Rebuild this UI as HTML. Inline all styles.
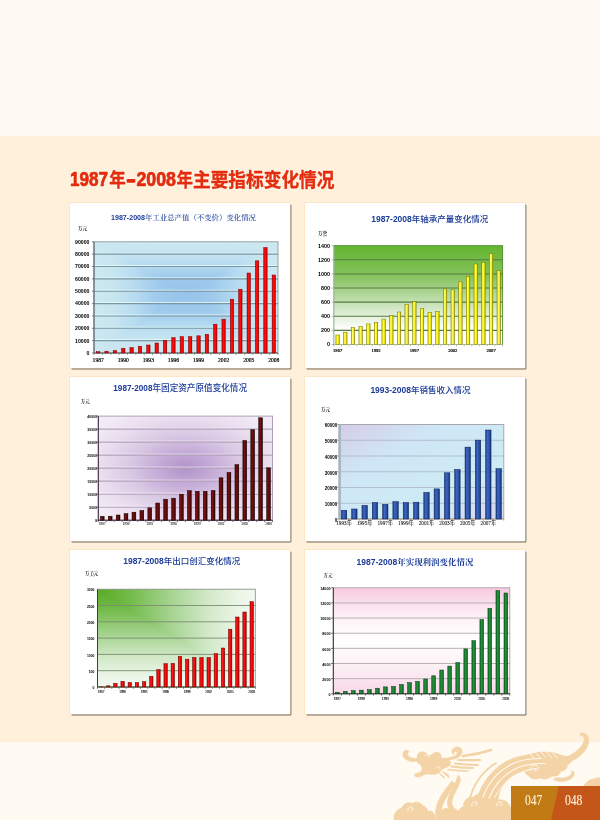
<!DOCTYPE html><html><head><meta charset="utf-8"><title>1987年-2008年主要指标变化情况</title><style>html,body{margin:0;padding:0;background:#fffaf3;}svg{display:block;will-change:transform;}</style></head><body>
<svg width="600" height="820" viewBox="0 0 600 820">
<defs>
<radialGradient id="c1bg" cx="0.5" cy="0.45" r="0.6" gradientTransform="translate(0.5 0.45) scale(1 0.75) translate(-0.5 -0.45)">
  <stop offset="0" stop-color="#92c0ea"/><stop offset="0.45" stop-color="#a8d2ee"/><stop offset="1" stop-color="#cde8ef"/>
</radialGradient>
<linearGradient id="c2bg" x1="0" y1="0" x2="0" y2="1">
  <stop offset="0" stop-color="#64b530"/><stop offset="0.3" stop-color="#84c25c"/><stop offset="0.62" stop-color="#cfe6c2"/><stop offset="0.85" stop-color="#ffffff"/><stop offset="1" stop-color="#ffffff"/>
</linearGradient>
<radialGradient id="c3bg" cx="0.5" cy="0.5" r="0.62">
  <stop offset="0" stop-color="#b092c9"/><stop offset="0.3" stop-color="#c8b0da"/><stop offset="0.5" stop-color="#d8c7e3"/><stop offset="0.8" stop-color="#eadfef"/><stop offset="1" stop-color="#f2eaf5"/>
</radialGradient>
<linearGradient id="c4bg" x1="0" y1="0" x2="1" y2="1">
  <stop offset="0" stop-color="#d6cbe8"/><stop offset="0.3" stop-color="#cfe6f6"/><stop offset="0.7" stop-color="#cdecf4"/><stop offset="1" stop-color="#d9d4ee"/>
</linearGradient>
<linearGradient id="c5bg" x1="0" y1="0" x2="1" y2="1">
  <stop offset="0" stop-color="#56a823"/><stop offset="0.12" stop-color="#6db43f"/><stop offset="0.3" stop-color="#a3d08a"/><stop offset="0.5" stop-color="#d6ebcd"/><stop offset="0.72" stop-color="#eef7ea"/><stop offset="1" stop-color="#f4faf2"/>
</linearGradient>
<linearGradient id="c6bg" x1="0" y1="0" x2="0" y2="1">
  <stop offset="0" stop-color="#f7cadf"/><stop offset="0.15" stop-color="#fae0ec"/><stop offset="0.32" stop-color="#fef5f9"/><stop offset="0.5" stop-color="#ffffff"/><stop offset="0.7" stop-color="#fdf3f7"/><stop offset="1" stop-color="#f8d8e7"/>
</linearGradient>
<linearGradient id="red1" x1="0" y1="0" x2="1" y2="0">
  <stop offset="0" stop-color="#c80000"/><stop offset="0.35" stop-color="#ff1010"/><stop offset="0.7" stop-color="#ff0000"/><stop offset="1" stop-color="#b00000"/>
</linearGradient>
<linearGradient id="red2" x1="0" y1="0" x2="1" y2="0">
  <stop offset="0" stop-color="#c00000"/><stop offset="0.35" stop-color="#ff1a1a"/><stop offset="0.7" stop-color="#ee0000"/><stop offset="1" stop-color="#a00000"/>
</linearGradient>
<linearGradient id="yel" x1="0" y1="0" x2="1" y2="0">
  <stop offset="0" stop-color="#d8d000"/><stop offset="0.35" stop-color="#ffff60"/><stop offset="0.7" stop-color="#f4ee10"/><stop offset="1" stop-color="#b0a800"/>
</linearGradient>
<linearGradient id="maroon" x1="0" y1="0" x2="1" y2="0">
  <stop offset="0" stop-color="#3e0202"/><stop offset="0.3" stop-color="#781010"/><stop offset="0.65" stop-color="#650a0a"/><stop offset="1" stop-color="#220000"/>
</linearGradient>
<linearGradient id="blue" x1="0" y1="0" x2="1" y2="0">
  <stop offset="0" stop-color="#1c3c8c"/><stop offset="0.35" stop-color="#3c66c0"/><stop offset="0.7" stop-color="#2a52a8"/><stop offset="1" stop-color="#14306e"/>
</linearGradient>
<linearGradient id="green" x1="0" y1="0" x2="1" y2="0">
  <stop offset="0" stop-color="#0c6422"/><stop offset="0.35" stop-color="#24973f"/><stop offset="0.7" stop-color="#188432"/><stop offset="1" stop-color="#08481a"/>
</linearGradient>
<linearGradient id="c1h" x1="0" y1="0" x2="1" y2="0"><stop offset="0.000" stop-color="#cde8ef"/><stop offset="0.125" stop-color="#c6e4f0"/><stop offset="0.225" stop-color="#b6dbf1"/><stop offset="0.350" stop-color="#9fcaec"/><stop offset="0.500" stop-color="#96c3ea"/><stop offset="0.650" stop-color="#9fcaec"/><stop offset="0.775" stop-color="#b6dbf1"/><stop offset="0.875" stop-color="#c6e4f0"/><stop offset="1.000" stop-color="#cde8ef"/></linearGradient>
<linearGradient id="c1v" x1="0" y1="0" x2="0" y2="1"><stop offset="0.000" stop-color="#cde8ef"/><stop offset="0.115" stop-color="#c6e4f0"/><stop offset="0.207" stop-color="#b6dbf1"/><stop offset="0.322" stop-color="#9fcaec"/><stop offset="0.460" stop-color="#96c3ea"/><stop offset="0.622" stop-color="#9fcaec"/><stop offset="0.757" stop-color="#b6dbf1"/><stop offset="0.865" stop-color="#c6e4f0"/><stop offset="1.000" stop-color="#cde8ef"/></linearGradient>
<linearGradient id="c3h" x1="0" y1="0" x2="1" y2="0"><stop offset="0.000" stop-color="#f3ecf5"/><stop offset="0.075" stop-color="#ece2f0"/><stop offset="0.200" stop-color="#d9c9e2"/><stop offset="0.350" stop-color="#bca2cf"/><stop offset="0.500" stop-color="#ae90c6"/><stop offset="0.650" stop-color="#bca2cf"/><stop offset="0.800" stop-color="#d9c9e2"/><stop offset="0.925" stop-color="#ece2f0"/><stop offset="1.000" stop-color="#f3ecf5"/></linearGradient>
<linearGradient id="c3v" x1="0" y1="0" x2="0" y2="1"><stop offset="0.000" stop-color="#f3ecf5"/><stop offset="0.075" stop-color="#ece2f0"/><stop offset="0.200" stop-color="#d9c9e2"/><stop offset="0.350" stop-color="#bca2cf"/><stop offset="0.500" stop-color="#ae90c6"/><stop offset="0.650" stop-color="#bca2cf"/><stop offset="0.800" stop-color="#d9c9e2"/><stop offset="0.925" stop-color="#ece2f0"/><stop offset="1.000" stop-color="#f3ecf5"/></linearGradient>
<linearGradient id="c5h" x1="0" y1="0" x2="1" y2="0"><stop offset="0.000" stop-color="#58aa25"/><stop offset="0.200" stop-color="#72ba48"/><stop offset="0.450" stop-color="#a2d28c"/><stop offset="0.700" stop-color="#d2e9c9"/><stop offset="0.900" stop-color="#ecf6e8"/><stop offset="1.000" stop-color="#f3f9f1"/></linearGradient>
<linearGradient id="c5v" x1="0" y1="0" x2="0" y2="1"><stop offset="0.000" stop-color="#58aa25"/><stop offset="0.200" stop-color="#72ba48"/><stop offset="0.450" stop-color="#a2d28c"/><stop offset="0.700" stop-color="#d2e9c9"/><stop offset="0.900" stop-color="#ecf6e8"/><stop offset="1.000" stop-color="#f3f9f1"/></linearGradient>
</defs>
<rect x="0" y="0" width="600" height="820" fill="#fffaf3"/>
<rect x="0" y="136" width="600" height="606.5" fill="#fef0da"/>
<rect x="0" y="742.5" width="600" height="77.5" fill="#fffaf2"/>
<g fill="none" stroke="#fff7ea" stroke-width="2.6" stroke-linejoin="round">
<text x="70" y="186" style="font-family:'Liberation Sans','Noto Sans CJK SC',sans-serif;font-weight:bold;font-size:19.5px" textLength="38" lengthAdjust="spacingAndGlyphs">1987</text>
<text x="109.2" y="186.8" style="font-family:'Noto Sans CJK SC',sans-serif;font-weight:bold;font-size:19px" textLength="16.5" lengthAdjust="spacingAndGlyphs">年</text>
<text x="126.6" y="186" style="font-family:'Liberation Sans','Noto Sans CJK SC',sans-serif;font-weight:bold;font-size:19.5px" textLength="9" lengthAdjust="spacingAndGlyphs">-</text>
<text x="136.4" y="186" style="font-family:'Liberation Sans','Noto Sans CJK SC',sans-serif;font-weight:bold;font-size:19.5px" textLength="39.6" lengthAdjust="spacingAndGlyphs">2008</text>
<text x="176.6" y="186.8" style="font-family:'Noto Sans CJK SC',sans-serif;font-weight:bold;font-size:19px" textLength="16.5" lengthAdjust="spacingAndGlyphs">年</text>
<text x="193" y="186.8" style="font-family:'Noto Sans CJK SC',sans-serif;font-weight:bold;font-size:19.5px" textLength="141.5" lengthAdjust="spacingAndGlyphs">主要指标变化情况</text>
</g>
<g fill="#e42c0e" stroke="#e42c0e" stroke-linejoin="round">
<text stroke-width="0.7" x="70" y="186" style="font-family:'Liberation Sans','Noto Sans CJK SC',sans-serif;font-weight:bold;font-size:19.5px" textLength="38" lengthAdjust="spacingAndGlyphs">1987</text>
<text stroke-width="0.35" x="109.2" y="186.8" style="font-family:'Noto Sans CJK SC',sans-serif;font-weight:bold;font-size:19px" textLength="16.5" lengthAdjust="spacingAndGlyphs">年</text>
<text stroke-width="1.3" x="126.6" y="186" style="font-family:'Liberation Sans','Noto Sans CJK SC',sans-serif;font-weight:bold;font-size:19.5px" textLength="9" lengthAdjust="spacingAndGlyphs">-</text>
<text stroke-width="0.7" x="136.4" y="186" style="font-family:'Liberation Sans','Noto Sans CJK SC',sans-serif;font-weight:bold;font-size:19.5px" textLength="39.6" lengthAdjust="spacingAndGlyphs">2008</text>
<text stroke-width="0.35" x="176.6" y="186.8" style="font-family:'Noto Sans CJK SC',sans-serif;font-weight:bold;font-size:19px" textLength="16.5" lengthAdjust="spacingAndGlyphs">年</text>
<text stroke-width="0.35" x="193" y="186.8" style="font-family:'Noto Sans CJK SC',sans-serif;font-weight:bold;font-size:19.5px" textLength="141.5" lengthAdjust="spacingAndGlyphs">主要指标变化情况</text>
</g>
<rect x="71.4" y="204.4" width="220" height="165" rx="1" fill="#746e62"/>
<rect x="69.5" y="202.5" width="220.5" height="165.5" fill="none" stroke="#fce6c6" stroke-width="1"/>
<rect x="70" y="203" width="220" height="165" fill="#ffffff"/>
<text x="111" y="219.6" fill="#1b3b98" style="font-family:'Liberation Sans',sans-serif;font-weight:bold;font-size:6.9px" textLength="34" lengthAdjust="spacingAndGlyphs">1987-2008</text>
<text x="145" y="219.8" fill="#1b3b98" style="font-family:'Noto Serif CJK SC',serif;font-weight:500;font-size:7.4px" textLength="111" lengthAdjust="spacingAndGlyphs">年工业总产值（不变价）变化情况</text>
<text x="78" y="229.5" fill="#222" style="font-family:'Noto Serif CJK SC',serif;font-weight:bold;font-size:4.5px">万元</text>
<g style="isolation:isolate"><rect x="94" y="241.8" width="184" height="111.2" fill="url(#c1h)"/><rect x="94" y="241.8" width="184" height="111.2" fill="url(#c1v)" style="mix-blend-mode:lighten"/></g>
<line x1="94" y1="253.16" x2="278" y2="253.16" stroke="#e6ffff" stroke-width="0.8"/>
<line x1="94" y1="254.16" x2="278" y2="254.16" stroke="#7d95a0" stroke-width="1.1"/>
<line x1="94" y1="265.51" x2="278" y2="265.51" stroke="#e6ffff" stroke-width="0.8"/>
<line x1="94" y1="266.51" x2="278" y2="266.51" stroke="#7d95a0" stroke-width="1.1"/>
<line x1="94" y1="277.87" x2="278" y2="277.87" stroke="#e6ffff" stroke-width="0.8"/>
<line x1="94" y1="278.87" x2="278" y2="278.87" stroke="#7d95a0" stroke-width="1.1"/>
<line x1="94" y1="290.22" x2="278" y2="290.22" stroke="#e6ffff" stroke-width="0.8"/>
<line x1="94" y1="291.22" x2="278" y2="291.22" stroke="#7d95a0" stroke-width="1.1"/>
<line x1="94" y1="302.58" x2="278" y2="302.58" stroke="#e6ffff" stroke-width="0.8"/>
<line x1="94" y1="303.58" x2="278" y2="303.58" stroke="#7d95a0" stroke-width="1.1"/>
<line x1="94" y1="314.93" x2="278" y2="314.93" stroke="#e6ffff" stroke-width="0.8"/>
<line x1="94" y1="315.93" x2="278" y2="315.93" stroke="#7d95a0" stroke-width="1.1"/>
<line x1="94" y1="327.29" x2="278" y2="327.29" stroke="#e6ffff" stroke-width="0.8"/>
<line x1="94" y1="328.29" x2="278" y2="328.29" stroke="#7d95a0" stroke-width="1.1"/>
<line x1="94" y1="339.64" x2="278" y2="339.64" stroke="#e6ffff" stroke-width="0.8"/>
<line x1="94" y1="340.64" x2="278" y2="340.64" stroke="#7d95a0" stroke-width="1.1"/>
<rect x="94" y="241.8" width="184" height="111.2" fill="none" stroke="#8e9a9c" stroke-width="0.9"/>
<line x1="94" y1="241.8" x2="94" y2="353" stroke="#4a5e64" stroke-width="1"/>
<line x1="94" y1="353" x2="278" y2="353" stroke="#4a5e64" stroke-width="1"/>
<path d="M91.8,353h2.2M91.8,340.64h2.2M91.8,328.29h2.2M91.8,315.93h2.2M91.8,303.58h2.2M91.8,291.22h2.2M91.8,278.87h2.2M91.8,266.51h2.2M91.8,254.16h2.2M91.8,241.8h2.2" stroke="#4a5e64" stroke-width="0.7" fill="none"/>
<path d="M94,353v1.8M102.36,353v1.8M110.73,353v1.8M119.09,353v1.8M127.45,353v1.8M135.82,353v1.8M144.18,353v1.8M152.55,353v1.8M160.91,353v1.8M169.27,353v1.8M177.64,353v1.8M186,353v1.8M194.36,353v1.8M202.73,353v1.8M211.09,353v1.8M219.45,353v1.8M227.82,353v1.8M236.18,353v1.8M244.55,353v1.8M252.91,353v1.8M261.27,353v1.8M269.64,353v1.8M278,353v1.8" stroke="#4a5e64" stroke-width="0.7" fill="none"/>
<text x="89.5" y="354.87" text-anchor="end" fill="#000" style="font-family:'Liberation Sans',sans-serif;font-weight:bold;font-size:5.2px">0</text>
<text x="89.5" y="342.52" text-anchor="end" fill="#000" style="font-family:'Liberation Sans',sans-serif;font-weight:bold;font-size:5.2px">10000</text>
<text x="89.5" y="330.16" text-anchor="end" fill="#000" style="font-family:'Liberation Sans',sans-serif;font-weight:bold;font-size:5.2px">20000</text>
<text x="89.5" y="317.81" text-anchor="end" fill="#000" style="font-family:'Liberation Sans',sans-serif;font-weight:bold;font-size:5.2px">30000</text>
<text x="89.5" y="305.45" text-anchor="end" fill="#000" style="font-family:'Liberation Sans',sans-serif;font-weight:bold;font-size:5.2px">40000</text>
<text x="89.5" y="293.09" text-anchor="end" fill="#000" style="font-family:'Liberation Sans',sans-serif;font-weight:bold;font-size:5.2px">50000</text>
<text x="89.5" y="280.74" text-anchor="end" fill="#000" style="font-family:'Liberation Sans',sans-serif;font-weight:bold;font-size:5.2px">60000</text>
<text x="89.5" y="268.38" text-anchor="end" fill="#000" style="font-family:'Liberation Sans',sans-serif;font-weight:bold;font-size:5.2px">70000</text>
<text x="89.5" y="256.03" text-anchor="end" fill="#000" style="font-family:'Liberation Sans',sans-serif;font-weight:bold;font-size:5.2px">80000</text>
<text x="89.5" y="243.67" text-anchor="end" fill="#000" style="font-family:'Liberation Sans',sans-serif;font-weight:bold;font-size:5.2px">90000</text>
<rect x="96.48" y="351.7" width="3.4" height="1.3" fill="url(#red1)" stroke="#7a0000" stroke-width="0.5"/>
<rect x="104.85" y="351.2" width="3.4" height="1.8" fill="url(#red1)" stroke="#7a0000" stroke-width="0.5"/>
<rect x="113.21" y="350.5" width="3.4" height="2.5" fill="url(#red1)" stroke="#7a0000" stroke-width="0.5"/>
<rect x="121.57" y="348.3" width="3.4" height="4.7" fill="url(#red1)" stroke="#7a0000" stroke-width="0.5"/>
<rect x="129.94" y="347.6" width="3.4" height="5.4" fill="url(#red1)" stroke="#7a0000" stroke-width="0.5"/>
<rect x="138.3" y="346.2" width="3.4" height="6.8" fill="url(#red1)" stroke="#7a0000" stroke-width="0.5"/>
<rect x="146.66" y="345" width="3.4" height="8" fill="url(#red1)" stroke="#7a0000" stroke-width="0.5"/>
<rect x="155.03" y="343" width="3.4" height="10" fill="url(#red1)" stroke="#7a0000" stroke-width="0.5"/>
<rect x="163.39" y="340.3" width="3.4" height="12.7" fill="url(#red1)" stroke="#7a0000" stroke-width="0.5"/>
<rect x="171.75" y="337.7" width="3.4" height="15.3" fill="url(#red1)" stroke="#7a0000" stroke-width="0.5"/>
<rect x="180.12" y="336.7" width="3.4" height="16.3" fill="url(#red1)" stroke="#7a0000" stroke-width="0.5"/>
<rect x="188.48" y="336.7" width="3.4" height="16.3" fill="url(#red1)" stroke="#7a0000" stroke-width="0.5"/>
<rect x="196.85" y="335.8" width="3.4" height="17.2" fill="url(#red1)" stroke="#7a0000" stroke-width="0.5"/>
<rect x="205.21" y="334.3" width="3.4" height="18.7" fill="url(#red1)" stroke="#7a0000" stroke-width="0.5"/>
<rect x="213.57" y="324.2" width="3.4" height="28.8" fill="url(#red1)" stroke="#7a0000" stroke-width="0.5"/>
<rect x="221.94" y="319.2" width="3.4" height="33.8" fill="url(#red1)" stroke="#7a0000" stroke-width="0.5"/>
<rect x="230.3" y="299.2" width="3.4" height="53.8" fill="url(#red1)" stroke="#7a0000" stroke-width="0.5"/>
<rect x="238.66" y="289.2" width="3.4" height="63.8" fill="url(#red1)" stroke="#7a0000" stroke-width="0.5"/>
<rect x="247.03" y="273" width="3.4" height="80" fill="url(#red1)" stroke="#7a0000" stroke-width="0.5"/>
<rect x="255.39" y="260.8" width="3.4" height="92.2" fill="url(#red1)" stroke="#7a0000" stroke-width="0.5"/>
<rect x="263.75" y="247.5" width="3.4" height="105.5" fill="url(#red1)" stroke="#7a0000" stroke-width="0.5"/>
<rect x="272.12" y="275" width="3.4" height="78" fill="url(#red1)" stroke="#7a0000" stroke-width="0.5"/>
<text x="98.18" y="362" text-anchor="middle" fill="#000" stroke="#000" stroke-width="0.18" style="font-family:'Liberation Serif','Noto Serif CJK SC',serif;font-size:5.6px">1987</text>
<text x="123.27" y="362" text-anchor="middle" fill="#000" stroke="#000" stroke-width="0.18" style="font-family:'Liberation Serif','Noto Serif CJK SC',serif;font-size:5.6px">1990</text>
<text x="148.36" y="362" text-anchor="middle" fill="#000" stroke="#000" stroke-width="0.18" style="font-family:'Liberation Serif','Noto Serif CJK SC',serif;font-size:5.6px">1993</text>
<text x="173.45" y="362" text-anchor="middle" fill="#000" stroke="#000" stroke-width="0.18" style="font-family:'Liberation Serif','Noto Serif CJK SC',serif;font-size:5.6px">1996</text>
<text x="198.55" y="362" text-anchor="middle" fill="#000" stroke="#000" stroke-width="0.18" style="font-family:'Liberation Serif','Noto Serif CJK SC',serif;font-size:5.6px">1999</text>
<text x="223.64" y="362" text-anchor="middle" fill="#000" stroke="#000" stroke-width="0.18" style="font-family:'Liberation Serif','Noto Serif CJK SC',serif;font-size:5.6px">2002</text>
<text x="248.73" y="362" text-anchor="middle" fill="#000" stroke="#000" stroke-width="0.18" style="font-family:'Liberation Serif','Noto Serif CJK SC',serif;font-size:5.6px">2005</text>
<text x="273.82" y="362" text-anchor="middle" fill="#000" stroke="#000" stroke-width="0.18" style="font-family:'Liberation Serif','Noto Serif CJK SC',serif;font-size:5.6px">2008</text>
<rect x="306.4" y="204.4" width="220" height="165" rx="1" fill="#746e62"/>
<rect x="304.5" y="202.5" width="220.5" height="165.5" fill="none" stroke="#fce6c6" stroke-width="1"/>
<rect x="305" y="203" width="220" height="165" fill="#ffffff"/>
<text x="371.2" y="221.7" fill="#1b3b98" style="font-family:'Liberation Sans',sans-serif;font-weight:bold;font-size:8.5px" textLength="40.6" lengthAdjust="spacingAndGlyphs">1987-2008</text>
<text x="411.8" y="221.8" fill="#1b3b98" style="font-family:'Noto Sans CJK SC',sans-serif;font-weight:500;font-size:8.5px" textLength="76.5" lengthAdjust="spacingAndGlyphs">年轴承产量变化情况</text>
<text x="318" y="234.5" fill="#222" style="font-family:'Noto Serif CJK SC',serif;font-weight:bold;font-size:4.6px">万套</text>
<rect x="333.8" y="245.7" width="168.8" height="98.8" fill="url(#c2bg)"/>
<line x1="333.8" y1="259.81" x2="502.6" y2="259.81" stroke="#557a40" stroke-width="1.1"/>
<line x1="333.8" y1="273.93" x2="502.6" y2="273.93" stroke="#557a40" stroke-width="1.1"/>
<line x1="333.8" y1="288.04" x2="502.6" y2="288.04" stroke="#557a40" stroke-width="1.1"/>
<line x1="333.8" y1="302.16" x2="502.6" y2="302.16" stroke="#557a40" stroke-width="1.1"/>
<line x1="333.8" y1="316.27" x2="502.6" y2="316.27" stroke="#557a40" stroke-width="1.1"/>
<line x1="333.8" y1="330.39" x2="502.6" y2="330.39" stroke="#557a40" stroke-width="1.1"/>
<rect x="333.8" y="245.7" width="168.8" height="98.8" fill="none" stroke="#4a8a2a" stroke-width="0.9"/>
<line x1="333.8" y1="245.7" x2="333.8" y2="344.5" stroke="#d4d4ee" stroke-width="0.8"/>
<line x1="333.8" y1="344.5" x2="502.6" y2="344.5" stroke="#c8c8c8" stroke-width="0.8"/>
<path d="M331.6,344.5h2.2M331.6,330.39h2.2M331.6,316.27h2.2M331.6,302.16h2.2M331.6,288.04h2.2M331.6,273.93h2.2M331.6,259.81h2.2M331.6,245.7h2.2" stroke="#999" stroke-width="0.7" fill="none"/>
<path d="M333.8,344.5v1.8M341.47,344.5v1.8M349.15,344.5v1.8M356.82,344.5v1.8M364.49,344.5v1.8M372.16,344.5v1.8M379.84,344.5v1.8M387.51,344.5v1.8M395.18,344.5v1.8M402.85,344.5v1.8M410.53,344.5v1.8M418.2,344.5v1.8M425.87,344.5v1.8M433.55,344.5v1.8M441.22,344.5v1.8M448.89,344.5v1.8M456.56,344.5v1.8M464.24,344.5v1.8M471.91,344.5v1.8M479.58,344.5v1.8M487.25,344.5v1.8M494.93,344.5v1.8M502.6,344.5v1.8" stroke="#999" stroke-width="0.7" fill="none"/>
<text x="330" y="346.44" text-anchor="end" fill="#000" style="font-family:'Liberation Sans',sans-serif;font-weight:bold;font-size:5.4px">0</text>
<text x="330" y="332.33" text-anchor="end" fill="#000" style="font-family:'Liberation Sans',sans-serif;font-weight:bold;font-size:5.4px">200</text>
<text x="330" y="318.22" text-anchor="end" fill="#000" style="font-family:'Liberation Sans',sans-serif;font-weight:bold;font-size:5.4px">400</text>
<text x="330" y="304.1" text-anchor="end" fill="#000" style="font-family:'Liberation Sans',sans-serif;font-weight:bold;font-size:5.4px">600</text>
<text x="330" y="289.99" text-anchor="end" fill="#000" style="font-family:'Liberation Sans',sans-serif;font-weight:bold;font-size:5.4px">800</text>
<text x="330" y="275.87" text-anchor="end" fill="#000" style="font-family:'Liberation Sans',sans-serif;font-weight:bold;font-size:5.4px">1000</text>
<text x="330" y="261.76" text-anchor="end" fill="#000" style="font-family:'Liberation Sans',sans-serif;font-weight:bold;font-size:5.4px">1200</text>
<text x="330" y="247.64" text-anchor="end" fill="#000" style="font-family:'Liberation Sans',sans-serif;font-weight:bold;font-size:5.4px">1400</text>
<rect x="335.89" y="335" width="3.5" height="9.5" fill="url(#yel)" stroke="#7a7400" stroke-width="0.5"/>
<rect x="343.56" y="332.2" width="3.5" height="12.3" fill="url(#yel)" stroke="#7a7400" stroke-width="0.5"/>
<rect x="351.23" y="327.4" width="3.5" height="17.1" fill="url(#yel)" stroke="#7a7400" stroke-width="0.5"/>
<rect x="358.9" y="326.4" width="3.5" height="18.1" fill="url(#yel)" stroke="#7a7400" stroke-width="0.5"/>
<rect x="366.58" y="323.9" width="3.5" height="20.6" fill="url(#yel)" stroke="#7a7400" stroke-width="0.5"/>
<rect x="374.25" y="322.6" width="3.5" height="21.9" fill="url(#yel)" stroke="#7a7400" stroke-width="0.5"/>
<rect x="381.92" y="319.1" width="3.5" height="25.4" fill="url(#yel)" stroke="#7a7400" stroke-width="0.5"/>
<rect x="389.6" y="315.5" width="3.5" height="29" fill="url(#yel)" stroke="#7a7400" stroke-width="0.5"/>
<rect x="397.27" y="312" width="3.5" height="32.5" fill="url(#yel)" stroke="#7a7400" stroke-width="0.5"/>
<rect x="404.94" y="304.4" width="3.5" height="40.1" fill="url(#yel)" stroke="#7a7400" stroke-width="0.5"/>
<rect x="412.61" y="301.6" width="3.5" height="42.9" fill="url(#yel)" stroke="#7a7400" stroke-width="0.5"/>
<rect x="420.29" y="308.6" width="3.5" height="35.9" fill="url(#yel)" stroke="#7a7400" stroke-width="0.5"/>
<rect x="427.96" y="312.5" width="3.5" height="32" fill="url(#yel)" stroke="#7a7400" stroke-width="0.5"/>
<rect x="435.63" y="311.3" width="3.5" height="33.2" fill="url(#yel)" stroke="#7a7400" stroke-width="0.5"/>
<rect x="443.3" y="288.9" width="3.5" height="55.6" fill="url(#yel)" stroke="#7a7400" stroke-width="0.5"/>
<rect x="450.98" y="289.8" width="3.5" height="54.7" fill="url(#yel)" stroke="#7a7400" stroke-width="0.5"/>
<rect x="458.65" y="281.8" width="3.5" height="62.7" fill="url(#yel)" stroke="#7a7400" stroke-width="0.5"/>
<rect x="466.32" y="276.4" width="3.5" height="68.1" fill="url(#yel)" stroke="#7a7400" stroke-width="0.5"/>
<rect x="474" y="264" width="3.5" height="80.5" fill="url(#yel)" stroke="#7a7400" stroke-width="0.5"/>
<rect x="481.67" y="262.4" width="3.5" height="82.1" fill="url(#yel)" stroke="#7a7400" stroke-width="0.5"/>
<rect x="489.34" y="253.8" width="3.5" height="90.7" fill="url(#yel)" stroke="#7a7400" stroke-width="0.5"/>
<rect x="497.01" y="270.7" width="3.5" height="73.8" fill="url(#yel)" stroke="#7a7400" stroke-width="0.5"/>
<text x="337.64" y="351.6" text-anchor="middle" fill="#000" stroke="#000" stroke-width="0.18" style="font-family:'Liberation Serif','Noto Serif CJK SC',serif;font-size:4.6px">1987</text>
<text x="376" y="351.6" text-anchor="middle" fill="#000" stroke="#000" stroke-width="0.18" style="font-family:'Liberation Serif','Noto Serif CJK SC',serif;font-size:4.6px">1992</text>
<text x="414.36" y="351.6" text-anchor="middle" fill="#000" stroke="#000" stroke-width="0.18" style="font-family:'Liberation Serif','Noto Serif CJK SC',serif;font-size:4.6px">1997</text>
<text x="452.73" y="351.6" text-anchor="middle" fill="#000" stroke="#000" stroke-width="0.18" style="font-family:'Liberation Serif','Noto Serif CJK SC',serif;font-size:4.6px">2002</text>
<text x="491.09" y="351.6" text-anchor="middle" fill="#000" stroke="#000" stroke-width="0.18" style="font-family:'Liberation Serif','Noto Serif CJK SC',serif;font-size:4.6px">2007</text>
<rect x="71.4" y="378.4" width="220" height="164" rx="1" fill="#746e62"/>
<rect x="69.5" y="376.5" width="220.5" height="164.5" fill="none" stroke="#fce6c6" stroke-width="1"/>
<rect x="70" y="377" width="220" height="164" fill="#ffffff"/>
<text x="113.3" y="391.2" fill="#1b3b98" style="font-family:'Liberation Sans',sans-serif;font-weight:bold;font-size:8.3px" textLength="39.2" lengthAdjust="spacingAndGlyphs">1987-2008</text>
<text x="152.5" y="391.2" fill="#1b3b98" style="font-family:'Noto Sans CJK SC',sans-serif;font-weight:500;font-size:8.6px" textLength="94.5" lengthAdjust="spacingAndGlyphs">年固定资产原值变化情况</text>
<text x="80.8" y="402.5" fill="#222" style="font-family:'Noto Serif CJK SC',serif;font-weight:bold;font-size:4.4px">万元</text>
<rect x="98.3" y="416.1" width="174.2" height="104.1" fill="url(#c3bg)"/>
<line x1="98.3" y1="428.11" x2="272.5" y2="428.11" stroke="#f8f0fa" stroke-width="0.8"/>
<line x1="98.3" y1="429.11" x2="272.5" y2="429.11" stroke="#b4a2bc" stroke-width="1.1"/>
<line x1="98.3" y1="441.12" x2="272.5" y2="441.12" stroke="#f8f0fa" stroke-width="0.8"/>
<line x1="98.3" y1="442.12" x2="272.5" y2="442.12" stroke="#b4a2bc" stroke-width="1.1"/>
<line x1="98.3" y1="454.14" x2="272.5" y2="454.14" stroke="#f8f0fa" stroke-width="0.8"/>
<line x1="98.3" y1="455.14" x2="272.5" y2="455.14" stroke="#b4a2bc" stroke-width="1.1"/>
<line x1="98.3" y1="467.15" x2="272.5" y2="467.15" stroke="#f8f0fa" stroke-width="0.8"/>
<line x1="98.3" y1="468.15" x2="272.5" y2="468.15" stroke="#b4a2bc" stroke-width="1.1"/>
<line x1="98.3" y1="480.16" x2="272.5" y2="480.16" stroke="#f8f0fa" stroke-width="0.8"/>
<line x1="98.3" y1="481.16" x2="272.5" y2="481.16" stroke="#b4a2bc" stroke-width="1.1"/>
<line x1="98.3" y1="493.18" x2="272.5" y2="493.18" stroke="#f8f0fa" stroke-width="0.8"/>
<line x1="98.3" y1="494.18" x2="272.5" y2="494.18" stroke="#b4a2bc" stroke-width="1.1"/>
<line x1="98.3" y1="506.19" x2="272.5" y2="506.19" stroke="#f8f0fa" stroke-width="0.8"/>
<line x1="98.3" y1="507.19" x2="272.5" y2="507.19" stroke="#b4a2bc" stroke-width="1.1"/>
<rect x="98.3" y="416.1" width="174.2" height="104.1" fill="none" stroke="#a898b0" stroke-width="0.9"/>
<line x1="98.3" y1="416.1" x2="98.3" y2="520.2" stroke="#3a2a40" stroke-width="1"/>
<line x1="98.3" y1="520.2" x2="272.5" y2="520.2" stroke="#3a2a40" stroke-width="1"/>
<path d="M96.1,520.2h2.2M96.1,507.19h2.2M96.1,494.18h2.2M96.1,481.16h2.2M96.1,468.15h2.2M96.1,455.14h2.2M96.1,442.12h2.2M96.1,429.11h2.2M96.1,416.1h2.2" stroke="#3a2a40" stroke-width="0.7" fill="none"/>
<path d="M98.3,520.2v1.8M106.22,520.2v1.8M114.14,520.2v1.8M122.05,520.2v1.8M129.97,520.2v1.8M137.89,520.2v1.8M145.81,520.2v1.8M153.73,520.2v1.8M161.65,520.2v1.8M169.56,520.2v1.8M177.48,520.2v1.8M185.4,520.2v1.8M193.32,520.2v1.8M201.24,520.2v1.8M209.15,520.2v1.8M217.07,520.2v1.8M224.99,520.2v1.8M232.91,520.2v1.8M240.83,520.2v1.8M248.75,520.2v1.8M256.66,520.2v1.8M264.58,520.2v1.8M272.5,520.2v1.8" stroke="#3a2a40" stroke-width="0.7" fill="none"/>
<text x="96.8" y="522.22" text-anchor="end" fill="#000" style="font-family:'Liberation Sans',sans-serif;font-weight:bold;font-size:3.4px">0</text>
<text x="96.8" y="509.21" text-anchor="end" fill="#000" style="font-family:'Liberation Sans',sans-serif;font-weight:bold;font-size:3.4px">5000</text>
<text x="96.8" y="496.2" text-anchor="end" fill="#000" style="font-family:'Liberation Sans',sans-serif;font-weight:bold;font-size:3.4px">10000</text>
<text x="96.8" y="483.19" text-anchor="end" fill="#000" style="font-family:'Liberation Sans',sans-serif;font-weight:bold;font-size:3.4px">15000</text>
<text x="96.8" y="470.17" text-anchor="end" fill="#000" style="font-family:'Liberation Sans',sans-serif;font-weight:bold;font-size:3.4px">20000</text>
<text x="96.8" y="457.16" text-anchor="end" fill="#000" style="font-family:'Liberation Sans',sans-serif;font-weight:bold;font-size:3.4px">25000</text>
<text x="96.8" y="444.15" text-anchor="end" fill="#000" style="font-family:'Liberation Sans',sans-serif;font-weight:bold;font-size:3.4px">30000</text>
<text x="96.8" y="431.14" text-anchor="end" fill="#000" style="font-family:'Liberation Sans',sans-serif;font-weight:bold;font-size:3.4px">35000</text>
<text x="96.8" y="418.12" text-anchor="end" fill="#000" style="font-family:'Liberation Sans',sans-serif;font-weight:bold;font-size:3.4px">40000</text>
<rect x="100.36" y="516.3" width="3.8" height="3.9" fill="url(#maroon)" stroke="#140000" stroke-width="0.5"/>
<rect x="108.28" y="516.2" width="3.8" height="4" fill="url(#maroon)" stroke="#140000" stroke-width="0.5"/>
<rect x="116.2" y="515" width="3.8" height="5.2" fill="url(#maroon)" stroke="#140000" stroke-width="0.5"/>
<rect x="124.11" y="513.7" width="3.8" height="6.5" fill="url(#maroon)" stroke="#140000" stroke-width="0.5"/>
<rect x="132.03" y="512.2" width="3.8" height="8" fill="url(#maroon)" stroke="#140000" stroke-width="0.5"/>
<rect x="139.95" y="510.5" width="3.8" height="9.7" fill="url(#maroon)" stroke="#140000" stroke-width="0.5"/>
<rect x="147.87" y="507.8" width="3.8" height="12.4" fill="url(#maroon)" stroke="#140000" stroke-width="0.5"/>
<rect x="155.79" y="503" width="3.8" height="17.2" fill="url(#maroon)" stroke="#140000" stroke-width="0.5"/>
<rect x="163.7" y="499.2" width="3.8" height="21" fill="url(#maroon)" stroke="#140000" stroke-width="0.5"/>
<rect x="171.62" y="498.2" width="3.8" height="22" fill="url(#maroon)" stroke="#140000" stroke-width="0.5"/>
<rect x="179.54" y="494.2" width="3.8" height="26" fill="url(#maroon)" stroke="#140000" stroke-width="0.5"/>
<rect x="187.46" y="490.7" width="3.8" height="29.5" fill="url(#maroon)" stroke="#140000" stroke-width="0.5"/>
<rect x="195.38" y="491.3" width="3.8" height="28.9" fill="url(#maroon)" stroke="#140000" stroke-width="0.5"/>
<rect x="203.3" y="491.3" width="3.8" height="28.9" fill="url(#maroon)" stroke="#140000" stroke-width="0.5"/>
<rect x="211.21" y="490.5" width="3.8" height="29.7" fill="url(#maroon)" stroke="#140000" stroke-width="0.5"/>
<rect x="219.13" y="477.8" width="3.8" height="42.4" fill="url(#maroon)" stroke="#140000" stroke-width="0.5"/>
<rect x="227.05" y="472.5" width="3.8" height="47.7" fill="url(#maroon)" stroke="#140000" stroke-width="0.5"/>
<rect x="234.97" y="464.7" width="3.8" height="55.5" fill="url(#maroon)" stroke="#140000" stroke-width="0.5"/>
<rect x="242.89" y="440.5" width="3.8" height="79.7" fill="url(#maroon)" stroke="#140000" stroke-width="0.5"/>
<rect x="250.8" y="429.7" width="3.8" height="90.5" fill="url(#maroon)" stroke="#140000" stroke-width="0.5"/>
<rect x="258.72" y="417.8" width="3.8" height="102.4" fill="url(#maroon)" stroke="#140000" stroke-width="0.5"/>
<rect x="266.64" y="467.8" width="3.8" height="52.4" fill="url(#maroon)" stroke="#140000" stroke-width="0.5"/>
<text x="102.26" y="524.8" text-anchor="middle" fill="#000" stroke="#000" stroke-width="0.06" style="font-family:'Liberation Serif','Noto Serif CJK SC',serif;font-size:3.3px">1987</text>
<text x="126.01" y="524.8" text-anchor="middle" fill="#000" stroke="#000" stroke-width="0.06" style="font-family:'Liberation Serif','Noto Serif CJK SC',serif;font-size:3.3px">1990</text>
<text x="149.77" y="524.8" text-anchor="middle" fill="#000" stroke="#000" stroke-width="0.06" style="font-family:'Liberation Serif','Noto Serif CJK SC',serif;font-size:3.3px">1993</text>
<text x="173.52" y="524.8" text-anchor="middle" fill="#000" stroke="#000" stroke-width="0.06" style="font-family:'Liberation Serif','Noto Serif CJK SC',serif;font-size:3.3px">1996</text>
<text x="197.28" y="524.8" text-anchor="middle" fill="#000" stroke="#000" stroke-width="0.06" style="font-family:'Liberation Serif','Noto Serif CJK SC',serif;font-size:3.3px">1999</text>
<text x="221.03" y="524.8" text-anchor="middle" fill="#000" stroke="#000" stroke-width="0.06" style="font-family:'Liberation Serif','Noto Serif CJK SC',serif;font-size:3.3px">2002</text>
<text x="244.79" y="524.8" text-anchor="middle" fill="#000" stroke="#000" stroke-width="0.06" style="font-family:'Liberation Serif','Noto Serif CJK SC',serif;font-size:3.3px">2005</text>
<text x="268.54" y="524.8" text-anchor="middle" fill="#000" stroke="#000" stroke-width="0.06" style="font-family:'Liberation Serif','Noto Serif CJK SC',serif;font-size:3.3px">2008</text>
<rect x="306.4" y="378.4" width="220" height="164" rx="1" fill="#746e62"/>
<rect x="304.5" y="376.5" width="220.5" height="164.5" fill="none" stroke="#fce6c6" stroke-width="1"/>
<rect x="305" y="377" width="220" height="164" fill="#ffffff"/>
<text x="370.4" y="393.2" fill="#1b3b98" style="font-family:'Liberation Sans',sans-serif;font-weight:bold;font-size:8.5px" textLength="40.6" lengthAdjust="spacingAndGlyphs">1993-2008</text>
<text x="411" y="393.2" fill="#1b3b98" style="font-family:'Noto Sans CJK SC',sans-serif;font-weight:500;font-size:8.5px" textLength="59.6" lengthAdjust="spacingAndGlyphs">年销售收入情况</text>
<text x="321" y="410.5" fill="#222" style="font-family:'Noto Serif CJK SC',serif;font-weight:bold;font-size:4.5px">万元</text>
<rect x="338.9" y="424.5" width="164.9" height="94.5" fill="url(#c4bg)"/>
<line x1="338.9" y1="440.25" x2="503.8" y2="440.25" stroke="#aab4c4" stroke-width="0.8"/>
<line x1="338.9" y1="456" x2="503.8" y2="456" stroke="#aab4c4" stroke-width="0.8"/>
<line x1="338.9" y1="471.75" x2="503.8" y2="471.75" stroke="#aab4c4" stroke-width="0.8"/>
<line x1="338.9" y1="487.5" x2="503.8" y2="487.5" stroke="#aab4c4" stroke-width="0.8"/>
<line x1="338.9" y1="503.25" x2="503.8" y2="503.25" stroke="#aab4c4" stroke-width="0.8"/>
<rect x="338.9" y="424.5" width="164.9" height="94.5" fill="none" stroke="#a0a0a4" stroke-width="0.9"/>
<rect x="338.9" y="424.5" width="2" height="94.5" fill="#9fb6c8"/>
<line x1="338.9" y1="519" x2="503.8" y2="519" stroke="#b09a80" stroke-width="0.8"/>
<path d="M336.7,519h2.2M336.7,503.25h2.2M336.7,487.5h2.2M336.7,471.75h2.2M336.7,456h2.2M336.7,440.25h2.2M336.7,424.5h2.2" stroke="#999" stroke-width="0.7" fill="none"/>
<path d="M338.9,519v1.8M349.21,519v1.8M359.51,519v1.8M369.82,519v1.8M380.12,519v1.8M390.43,519v1.8M400.74,519v1.8M411.04,519v1.8M421.35,519v1.8M431.66,519v1.8M441.96,519v1.8M452.27,519v1.8M462.57,519v1.8M472.88,519v1.8M483.19,519v1.8M493.49,519v1.8M503.8,519v1.8" stroke="#999" stroke-width="0.7" fill="none"/>
<text x="337.3" y="521.82" text-anchor="end" fill="#000" style="font-family:'Liberation Sans',sans-serif;font-weight:bold;font-size:4.5px">0</text>
<text x="337.3" y="506.07" text-anchor="end" fill="#000" style="font-family:'Liberation Sans',sans-serif;font-weight:bold;font-size:4.5px">10000</text>
<text x="337.3" y="490.32" text-anchor="end" fill="#000" style="font-family:'Liberation Sans',sans-serif;font-weight:bold;font-size:4.5px">20000</text>
<text x="337.3" y="474.57" text-anchor="end" fill="#000" style="font-family:'Liberation Sans',sans-serif;font-weight:bold;font-size:4.5px">30000</text>
<text x="337.3" y="458.82" text-anchor="end" fill="#000" style="font-family:'Liberation Sans',sans-serif;font-weight:bold;font-size:4.5px">40000</text>
<text x="337.3" y="443.07" text-anchor="end" fill="#000" style="font-family:'Liberation Sans',sans-serif;font-weight:bold;font-size:4.5px">50000</text>
<text x="337.3" y="427.32" text-anchor="end" fill="#000" style="font-family:'Liberation Sans',sans-serif;font-weight:bold;font-size:4.5px">60000</text>
<rect x="341.35" y="510.3" width="5.4" height="8.7" fill="url(#blue)" stroke="#0c1f50" stroke-width="0.5"/>
<rect x="351.66" y="509" width="5.4" height="10" fill="url(#blue)" stroke="#0c1f50" stroke-width="0.5"/>
<rect x="361.97" y="505.4" width="5.4" height="13.6" fill="url(#blue)" stroke="#0c1f50" stroke-width="0.5"/>
<rect x="372.27" y="502.5" width="5.4" height="16.5" fill="url(#blue)" stroke="#0c1f50" stroke-width="0.5"/>
<rect x="382.58" y="504.3" width="5.4" height="14.7" fill="url(#blue)" stroke="#0c1f50" stroke-width="0.5"/>
<rect x="392.88" y="501.6" width="5.4" height="17.4" fill="url(#blue)" stroke="#0c1f50" stroke-width="0.5"/>
<rect x="403.19" y="502.5" width="5.4" height="16.5" fill="url(#blue)" stroke="#0c1f50" stroke-width="0.5"/>
<rect x="413.5" y="502.2" width="5.4" height="16.8" fill="url(#blue)" stroke="#0c1f50" stroke-width="0.5"/>
<rect x="423.8" y="492.4" width="5.4" height="26.6" fill="url(#blue)" stroke="#0c1f50" stroke-width="0.5"/>
<rect x="434.11" y="488.9" width="5.4" height="30.1" fill="url(#blue)" stroke="#0c1f50" stroke-width="0.5"/>
<rect x="444.42" y="472.8" width="5.4" height="46.2" fill="url(#blue)" stroke="#0c1f50" stroke-width="0.5"/>
<rect x="454.72" y="469.5" width="5.4" height="49.5" fill="url(#blue)" stroke="#0c1f50" stroke-width="0.5"/>
<rect x="465.03" y="447.1" width="5.4" height="71.9" fill="url(#blue)" stroke="#0c1f50" stroke-width="0.5"/>
<rect x="475.33" y="440.1" width="5.4" height="78.9" fill="url(#blue)" stroke="#0c1f50" stroke-width="0.5"/>
<rect x="485.64" y="430" width="5.4" height="89" fill="url(#blue)" stroke="#0c1f50" stroke-width="0.5"/>
<rect x="495.95" y="468.7" width="5.4" height="50.3" fill="url(#blue)" stroke="#0c1f50" stroke-width="0.5"/>
<text x="344.05" y="525.3" text-anchor="middle" fill="#000" stroke="#000" stroke-width="0.05" style="font-family:'Liberation Serif','Noto Serif CJK SC',serif;font-size:5.2px">1993年</text>
<text x="364.67" y="525.3" text-anchor="middle" fill="#000" stroke="#000" stroke-width="0.05" style="font-family:'Liberation Serif','Noto Serif CJK SC',serif;font-size:5.2px">1995年</text>
<text x="385.28" y="525.3" text-anchor="middle" fill="#000" stroke="#000" stroke-width="0.05" style="font-family:'Liberation Serif','Noto Serif CJK SC',serif;font-size:5.2px">1997年</text>
<text x="405.89" y="525.3" text-anchor="middle" fill="#000" stroke="#000" stroke-width="0.05" style="font-family:'Liberation Serif','Noto Serif CJK SC',serif;font-size:5.2px">1999年</text>
<text x="426.5" y="525.3" text-anchor="middle" fill="#000" stroke="#000" stroke-width="0.05" style="font-family:'Liberation Serif','Noto Serif CJK SC',serif;font-size:5.2px">2001年</text>
<text x="447.12" y="525.3" text-anchor="middle" fill="#000" stroke="#000" stroke-width="0.05" style="font-family:'Liberation Serif','Noto Serif CJK SC',serif;font-size:5.2px">2003年</text>
<text x="467.73" y="525.3" text-anchor="middle" fill="#000" stroke="#000" stroke-width="0.05" style="font-family:'Liberation Serif','Noto Serif CJK SC',serif;font-size:5.2px">2005年</text>
<text x="488.34" y="525.3" text-anchor="middle" fill="#000" stroke="#000" stroke-width="0.05" style="font-family:'Liberation Serif','Noto Serif CJK SC',serif;font-size:5.2px">2007年</text>
<rect x="71.4" y="551.4" width="220" height="164" rx="1" fill="#746e62"/>
<rect x="69.5" y="549.5" width="220.5" height="164.5" fill="none" stroke="#fce6c6" stroke-width="1"/>
<rect x="70" y="550" width="220" height="164" fill="#ffffff"/>
<text x="123.2" y="563.5" fill="#1b3b98" style="font-family:'Liberation Sans',sans-serif;font-weight:bold;font-size:8.5px" textLength="40.6" lengthAdjust="spacingAndGlyphs">1987-2008</text>
<text x="163.8" y="563.5" fill="#1b3b98" style="font-family:'Noto Sans CJK SC',sans-serif;font-weight:500;font-size:8.5px" textLength="76.4" lengthAdjust="spacingAndGlyphs">年出口创汇变化情况</text>
<text x="85" y="575" fill="#222" style="font-family:'Noto Serif CJK SC',serif;font-weight:bold;font-size:4.4px">万美元</text>
<g style="isolation:isolate"><rect x="97.5" y="589.2" width="157.8" height="97.8" fill="url(#c5h)"/><rect x="97.5" y="589.2" width="157.8" height="97.8" fill="url(#c5v)" style="mix-blend-mode:lighten"/></g>
<line x1="97.5" y1="605.5" x2="255.3" y2="605.5" stroke="#7a8c72" stroke-width="0.9"/>
<line x1="97.5" y1="621.8" x2="255.3" y2="621.8" stroke="#7a8c72" stroke-width="0.9"/>
<line x1="97.5" y1="638.1" x2="255.3" y2="638.1" stroke="#7a8c72" stroke-width="0.9"/>
<line x1="97.5" y1="654.4" x2="255.3" y2="654.4" stroke="#7a8c72" stroke-width="0.9"/>
<line x1="97.5" y1="670.7" x2="255.3" y2="670.7" stroke="#7a8c72" stroke-width="0.9"/>
<rect x="97.5" y="589.2" width="157.8" height="97.8" fill="none" stroke="#999" stroke-width="0.9"/>
<line x1="97.5" y1="589.2" x2="97.5" y2="687" stroke="#2e4a22" stroke-width="1"/>
<line x1="97.5" y1="687" x2="255.3" y2="687" stroke="#2e4a22" stroke-width="1"/>
<path d="M97.5,687v1.8M104.67,687v1.8M111.85,687v1.8M119.02,687v1.8M126.19,687v1.8M133.36,687v1.8M140.54,687v1.8M147.71,687v1.8M154.88,687v1.8M162.05,687v1.8M169.23,687v1.8M176.4,687v1.8M183.57,687v1.8M190.75,687v1.8M197.92,687v1.8M205.09,687v1.8M212.26,687v1.8M219.44,687v1.8M226.61,687v1.8M233.78,687v1.8M240.95,687v1.8M248.13,687v1.8M255.3,687v1.8" stroke="#2e4a22" stroke-width="0.7" fill="none"/>
<text x="94.5" y="689.22" text-anchor="end" fill="#000" style="font-family:'Liberation Sans',sans-serif;font-weight:bold;font-size:3.4px">0</text>
<text x="94.5" y="672.92" text-anchor="end" fill="#000" style="font-family:'Liberation Sans',sans-serif;font-weight:bold;font-size:3.4px">500</text>
<text x="94.5" y="656.62" text-anchor="end" fill="#000" style="font-family:'Liberation Sans',sans-serif;font-weight:bold;font-size:3.4px">1000</text>
<text x="94.5" y="640.32" text-anchor="end" fill="#000" style="font-family:'Liberation Sans',sans-serif;font-weight:bold;font-size:3.4px">1500</text>
<text x="94.5" y="624.02" text-anchor="end" fill="#000" style="font-family:'Liberation Sans',sans-serif;font-weight:bold;font-size:3.4px">2000</text>
<text x="94.5" y="607.72" text-anchor="end" fill="#000" style="font-family:'Liberation Sans',sans-serif;font-weight:bold;font-size:3.4px">2500</text>
<text x="94.5" y="591.42" text-anchor="end" fill="#000" style="font-family:'Liberation Sans',sans-serif;font-weight:bold;font-size:3.4px">3000</text>
<rect x="99.39" y="686.9" width="3.4" height="0.1" fill="url(#red2)" stroke="#6a0000" stroke-width="0.5"/>
<rect x="106.56" y="685.8" width="3.4" height="1.2" fill="url(#red2)" stroke="#6a0000" stroke-width="0.5"/>
<rect x="113.73" y="683.3" width="3.4" height="3.7" fill="url(#red2)" stroke="#6a0000" stroke-width="0.5"/>
<rect x="120.9" y="681.3" width="3.4" height="5.7" fill="url(#red2)" stroke="#6a0000" stroke-width="0.5"/>
<rect x="128.08" y="682.5" width="3.4" height="4.5" fill="url(#red2)" stroke="#6a0000" stroke-width="0.5"/>
<rect x="135.25" y="682.5" width="3.4" height="4.5" fill="url(#red2)" stroke="#6a0000" stroke-width="0.5"/>
<rect x="142.42" y="681.7" width="3.4" height="5.3" fill="url(#red2)" stroke="#6a0000" stroke-width="0.5"/>
<rect x="149.6" y="676.3" width="3.4" height="10.7" fill="url(#red2)" stroke="#6a0000" stroke-width="0.5"/>
<rect x="156.77" y="669.5" width="3.4" height="17.5" fill="url(#red2)" stroke="#6a0000" stroke-width="0.5"/>
<rect x="163.94" y="663.7" width="3.4" height="23.3" fill="url(#red2)" stroke="#6a0000" stroke-width="0.5"/>
<rect x="171.11" y="663.3" width="3.4" height="23.7" fill="url(#red2)" stroke="#6a0000" stroke-width="0.5"/>
<rect x="178.29" y="656.3" width="3.4" height="30.7" fill="url(#red2)" stroke="#6a0000" stroke-width="0.5"/>
<rect x="185.46" y="659.2" width="3.4" height="27.8" fill="url(#red2)" stroke="#6a0000" stroke-width="0.5"/>
<rect x="192.63" y="657.5" width="3.4" height="29.5" fill="url(#red2)" stroke="#6a0000" stroke-width="0.5"/>
<rect x="199.8" y="657.5" width="3.4" height="29.5" fill="url(#red2)" stroke="#6a0000" stroke-width="0.5"/>
<rect x="206.98" y="657.5" width="3.4" height="29.5" fill="url(#red2)" stroke="#6a0000" stroke-width="0.5"/>
<rect x="214.15" y="653.7" width="3.4" height="33.3" fill="url(#red2)" stroke="#6a0000" stroke-width="0.5"/>
<rect x="221.32" y="648" width="3.4" height="39" fill="url(#red2)" stroke="#6a0000" stroke-width="0.5"/>
<rect x="228.5" y="629.2" width="3.4" height="57.8" fill="url(#red2)" stroke="#6a0000" stroke-width="0.5"/>
<rect x="235.67" y="617" width="3.4" height="70" fill="url(#red2)" stroke="#6a0000" stroke-width="0.5"/>
<rect x="242.84" y="612" width="3.4" height="75" fill="url(#red2)" stroke="#6a0000" stroke-width="0.5"/>
<rect x="250.01" y="601.7" width="3.4" height="85.3" fill="url(#red2)" stroke="#6a0000" stroke-width="0.5"/>
<text x="101.09" y="692.8" text-anchor="middle" fill="#000" stroke="#000" stroke-width="0.08" style="font-family:'Liberation Serif','Noto Serif CJK SC',serif;font-size:3.4px">1987</text>
<text x="122.6" y="692.8" text-anchor="middle" fill="#000" stroke="#000" stroke-width="0.08" style="font-family:'Liberation Serif','Noto Serif CJK SC',serif;font-size:3.4px">1990</text>
<text x="144.12" y="692.8" text-anchor="middle" fill="#000" stroke="#000" stroke-width="0.08" style="font-family:'Liberation Serif','Noto Serif CJK SC',serif;font-size:3.4px">1993</text>
<text x="165.64" y="692.8" text-anchor="middle" fill="#000" stroke="#000" stroke-width="0.08" style="font-family:'Liberation Serif','Noto Serif CJK SC',serif;font-size:3.4px">1996</text>
<text x="187.16" y="692.8" text-anchor="middle" fill="#000" stroke="#000" stroke-width="0.08" style="font-family:'Liberation Serif','Noto Serif CJK SC',serif;font-size:3.4px">1999</text>
<text x="208.68" y="692.8" text-anchor="middle" fill="#000" stroke="#000" stroke-width="0.08" style="font-family:'Liberation Serif','Noto Serif CJK SC',serif;font-size:3.4px">2002</text>
<text x="230.2" y="692.8" text-anchor="middle" fill="#000" stroke="#000" stroke-width="0.08" style="font-family:'Liberation Serif','Noto Serif CJK SC',serif;font-size:3.4px">2005</text>
<text x="251.71" y="692.8" text-anchor="middle" fill="#000" stroke="#000" stroke-width="0.08" style="font-family:'Liberation Serif','Noto Serif CJK SC',serif;font-size:3.4px">2008</text>
<rect x="306.4" y="551.4" width="220" height="164" rx="1" fill="#746e62"/>
<rect x="304.5" y="549.5" width="220.5" height="164.5" fill="none" stroke="#fce6c6" stroke-width="1"/>
<rect x="305" y="550" width="220" height="164" fill="#ffffff"/>
<text x="356.5" y="565.2" fill="#1b3b98" style="font-family:'Liberation Sans',sans-serif;font-weight:bold;font-size:8.5px" textLength="40.7" lengthAdjust="spacingAndGlyphs">1987-2008</text>
<text x="397.2" y="565.2" fill="#1b3b98" style="font-family:'Noto Serif CJK SC',serif;font-weight:bold;font-size:8.5px" textLength="76.3" lengthAdjust="spacingAndGlyphs">年实现利润变化情况</text>
<text x="323.5" y="577" fill="#222" style="font-family:'Noto Serif CJK SC',serif;font-weight:bold;font-size:4.4px">万元</text>
<rect x="333.3" y="587.8" width="176.5" height="106" fill="url(#c6bg)"/>
<line x1="333.3" y1="602.94" x2="509.8" y2="602.94" stroke="#b2aaaa" stroke-width="0.9"/>
<line x1="333.3" y1="618.09" x2="509.8" y2="618.09" stroke="#b2aaaa" stroke-width="0.9"/>
<line x1="333.3" y1="633.23" x2="509.8" y2="633.23" stroke="#b2aaaa" stroke-width="0.9"/>
<line x1="333.3" y1="648.37" x2="509.8" y2="648.37" stroke="#b2aaaa" stroke-width="0.9"/>
<line x1="333.3" y1="663.51" x2="509.8" y2="663.51" stroke="#b2aaaa" stroke-width="0.9"/>
<line x1="333.3" y1="678.66" x2="509.8" y2="678.66" stroke="#b2aaaa" stroke-width="0.9"/>
<rect x="333.3" y="587.8" width="176.5" height="106" fill="none" stroke="#a8a0a4" stroke-width="0.9"/>
<line x1="333.3" y1="587.8" x2="333.3" y2="693.8" stroke="#333" stroke-width="1"/>
<line x1="333.3" y1="693.8" x2="509.8" y2="693.8" stroke="#333" stroke-width="1"/>
<path d="M331.1,693.8h2.2M331.1,678.66h2.2M331.1,663.51h2.2M331.1,648.37h2.2M331.1,633.23h2.2M331.1,618.09h2.2M331.1,602.94h2.2M331.1,587.8h2.2" stroke="#333" stroke-width="0.7" fill="none"/>
<path d="M333.3,693.8v1.8M341.32,693.8v1.8M349.35,693.8v1.8M357.37,693.8v1.8M365.39,693.8v1.8M373.41,693.8v1.8M381.44,693.8v1.8M389.46,693.8v1.8M397.48,693.8v1.8M405.5,693.8v1.8M413.53,693.8v1.8M421.55,693.8v1.8M429.57,693.8v1.8M437.6,693.8v1.8M445.62,693.8v1.8M453.64,693.8v1.8M461.66,693.8v1.8M469.69,693.8v1.8M477.71,693.8v1.8M485.73,693.8v1.8M493.75,693.8v1.8M501.78,693.8v1.8M509.8,693.8v1.8" stroke="#333" stroke-width="0.7" fill="none"/>
<text x="330.5" y="696.03" text-anchor="end" fill="#000" style="font-family:'Liberation Sans',sans-serif;font-weight:bold;font-size:3.7px">0</text>
<text x="330.5" y="680.89" text-anchor="end" fill="#000" style="font-family:'Liberation Sans',sans-serif;font-weight:bold;font-size:3.7px">2000</text>
<text x="330.5" y="665.75" text-anchor="end" fill="#000" style="font-family:'Liberation Sans',sans-serif;font-weight:bold;font-size:3.7px">4000</text>
<text x="330.5" y="650.6" text-anchor="end" fill="#000" style="font-family:'Liberation Sans',sans-serif;font-weight:bold;font-size:3.7px">6000</text>
<text x="330.5" y="635.46" text-anchor="end" fill="#000" style="font-family:'Liberation Sans',sans-serif;font-weight:bold;font-size:3.7px">8000</text>
<text x="330.5" y="620.32" text-anchor="end" fill="#000" style="font-family:'Liberation Sans',sans-serif;font-weight:bold;font-size:3.7px">10000</text>
<text x="330.5" y="605.17" text-anchor="end" fill="#000" style="font-family:'Liberation Sans',sans-serif;font-weight:bold;font-size:3.7px">12000</text>
<text x="330.5" y="590.03" text-anchor="end" fill="#000" style="font-family:'Liberation Sans',sans-serif;font-weight:bold;font-size:3.7px">14000</text>
<rect x="335.51" y="692.3" width="3.6" height="1.5" fill="url(#green)" stroke="#053010" stroke-width="0.5"/>
<rect x="343.53" y="691.4" width="3.6" height="2.4" fill="url(#green)" stroke="#053010" stroke-width="0.5"/>
<rect x="351.56" y="690.6" width="3.6" height="3.2" fill="url(#green)" stroke="#053010" stroke-width="0.5"/>
<rect x="359.58" y="690.2" width="3.6" height="3.6" fill="url(#green)" stroke="#053010" stroke-width="0.5"/>
<rect x="367.6" y="689.7" width="3.6" height="4.1" fill="url(#green)" stroke="#053010" stroke-width="0.5"/>
<rect x="375.62" y="688.2" width="3.6" height="5.6" fill="url(#green)" stroke="#053010" stroke-width="0.5"/>
<rect x="383.65" y="686.9" width="3.6" height="6.9" fill="url(#green)" stroke="#053010" stroke-width="0.5"/>
<rect x="391.67" y="686.5" width="3.6" height="7.3" fill="url(#green)" stroke="#053010" stroke-width="0.5"/>
<rect x="399.69" y="684.5" width="3.6" height="9.3" fill="url(#green)" stroke="#053010" stroke-width="0.5"/>
<rect x="407.72" y="682.7" width="3.6" height="11.1" fill="url(#green)" stroke="#053010" stroke-width="0.5"/>
<rect x="415.74" y="681.4" width="3.6" height="12.4" fill="url(#green)" stroke="#053010" stroke-width="0.5"/>
<rect x="423.76" y="679" width="3.6" height="14.8" fill="url(#green)" stroke="#053010" stroke-width="0.5"/>
<rect x="431.78" y="675.8" width="3.6" height="18" fill="url(#green)" stroke="#053010" stroke-width="0.5"/>
<rect x="439.81" y="670" width="3.6" height="23.8" fill="url(#green)" stroke="#053010" stroke-width="0.5"/>
<rect x="447.83" y="666.1" width="3.6" height="27.7" fill="url(#green)" stroke="#053010" stroke-width="0.5"/>
<rect x="455.85" y="662.5" width="3.6" height="31.3" fill="url(#green)" stroke="#053010" stroke-width="0.5"/>
<rect x="463.88" y="648.9" width="3.6" height="44.9" fill="url(#green)" stroke="#053010" stroke-width="0.5"/>
<rect x="471.9" y="640.7" width="3.6" height="53.1" fill="url(#green)" stroke="#053010" stroke-width="0.5"/>
<rect x="479.92" y="619.6" width="3.6" height="74.2" fill="url(#green)" stroke="#053010" stroke-width="0.5"/>
<rect x="487.94" y="608.4" width="3.6" height="85.4" fill="url(#green)" stroke="#053010" stroke-width="0.5"/>
<rect x="495.97" y="590.6" width="3.6" height="103.2" fill="url(#green)" stroke="#053010" stroke-width="0.5"/>
<rect x="503.99" y="593" width="3.6" height="100.8" fill="url(#green)" stroke="#053010" stroke-width="0.5"/>
<text x="337.31" y="700" text-anchor="middle" fill="#000" stroke="#000" stroke-width="0.08" style="font-family:'Liberation Serif','Noto Serif CJK SC',serif;font-size:3.6px">1987</text>
<text x="361.38" y="700" text-anchor="middle" fill="#000" stroke="#000" stroke-width="0.08" style="font-family:'Liberation Serif','Noto Serif CJK SC',serif;font-size:3.6px">1990</text>
<text x="385.45" y="700" text-anchor="middle" fill="#000" stroke="#000" stroke-width="0.08" style="font-family:'Liberation Serif','Noto Serif CJK SC',serif;font-size:3.6px">1993</text>
<text x="409.52" y="700" text-anchor="middle" fill="#000" stroke="#000" stroke-width="0.08" style="font-family:'Liberation Serif','Noto Serif CJK SC',serif;font-size:3.6px">1996</text>
<text x="433.58" y="700" text-anchor="middle" fill="#000" stroke="#000" stroke-width="0.08" style="font-family:'Liberation Serif','Noto Serif CJK SC',serif;font-size:3.6px">1999</text>
<text x="457.65" y="700" text-anchor="middle" fill="#000" stroke="#000" stroke-width="0.08" style="font-family:'Liberation Serif','Noto Serif CJK SC',serif;font-size:3.6px">2002</text>
<text x="481.72" y="700" text-anchor="middle" fill="#000" stroke="#000" stroke-width="0.08" style="font-family:'Liberation Serif','Noto Serif CJK SC',serif;font-size:3.6px">2005</text>
<text x="505.79" y="700" text-anchor="middle" fill="#000" stroke="#000" stroke-width="0.08" style="font-family:'Liberation Serif','Noto Serif CJK SC',serif;font-size:3.6px">2008</text>

<g fill="#f4d3a6" stroke="#f4d3a6" stroke-width="0.6" stroke-linejoin="round">
 <!-- dragon head -->
 <path d="M409,751.5 C406.5,749 402.5,750.5 402.8,754.5 C403.2,759 408,761.5 414,761.5 L419,761.5 L419,758.5 C414,758.8 409.5,758 408,755.5 C407.2,754 408,752.5 409,751.5 Z"/>
 <path d="M417,762 C416.5,758 417,754 419.5,752.5 C422,751 425.5,752 427.5,754.5 C429.5,756 431,755.5 432.5,754 C434.5,752 438,751.5 440,753.5 C441.5,755.5 441,758 443,759.5 C446,760 449,759.5 450.5,761.5 C451,764.5 449,766.5 446,767.5 C443.5,768.5 441.5,769.5 440.5,771.5 C439,773.5 436,774.5 432.5,774.5 C429.5,774.5 427,773.5 424.5,774.5 C422,776 419.5,777.5 416.5,777 C414.5,776.5 414,774.5 415.5,773.5 C417.5,773 420,773 421.5,771 C422.5,769 422,766 420,764.5 C419,763.5 418,763 417,762 Z"/>
 <!-- upper curl behind head -->
 <path d="M442,758.5 C447,758 452,757.5 455,755.8 C458,754 457.5,751 455,751.5 C453,752 453.5,754 455,753.8 C452.5,755 450.8,752 452.5,749.5 C454.5,746.5 459.5,746 461.5,749 C463.5,752.5 461,756.5 456,758.5 C452,760 446,760.5 442,760 Z"/>
 <!-- body -->
 <path d="M452,781 C447,787 440,795 437,805 C435,811 435,816 436,820 L441,820 C440,814 441,808 444,802 C447,796 451,790 455,784 Z"/>
 <path d="M458,775 C460,776 461,779 460,782 C458,789 453,795 452,801 C451,806 455,810 461,812 L466,814 L464,818 C457,817 450,813 448,807 C446,800 450,792 454,786 C456,782 457,778 458,775 Z"/>
 <path d="M440,812 C444,806 450,808 452,812 C456,815 462,816 466,820 L438,820 Z"/>
 <path d="M424,820 C423,815 426,811 430,811 C433,811 435,814 435,820 Z"/>
 <!-- wave crescent -->
 <path d="M477,799 C481,784 492,769 507,761 C516,756.5 526,754.5 536,754.5 L552,755.5 C556,758 556,763 552,766 C546,769.5 540,770 534,770 C526,770 518,772 511,777 C504,782 500,789 498,799 Z"/>
 <!-- crest mass -->
 <path d="M524,757 C532,752 544,751 554,753 C560,754.5 566,757 570,757 C573,760 571,764 567,765 C568,768 565,771 561,771 C560,775 556,777 552,776 C549,779 544,780 540,778 C536,780 531,779 529,776 C526,775 524,772 525,769 Z"/>
 <!-- tail up -->
 <path d="M565,757.5 C574,754 582,748 584,741 C585,737.5 583,735 580.5,735.5 C579,734 581,732.5 583.5,733 C587.5,734 589.5,738 588.5,743 C587,751 579,758 570,762 Z"/>
 <!-- lower right curl -->
 <path d="M553,779 C559,783 567,782 572,778 C574,776 575,773 573.5,771.5 C572,770.5 570.5,772 571.5,773.5 C570,777 564,779 558,777.5 Z"/>
 <!-- big cloud bottom middle -->
 <path d="M458,820 C456.5,814 458.5,808 463.5,806.5 C463,801 467.5,796.5 473,797.5 C475.5,793.5 482,793 485.5,796.5 C490,794 496.5,795.5 498.5,800 C503.5,799 509,802 510,807 C514,808 516.5,812 515.5,816 L515,820 Z"/>
 <!-- bottom-left cloud -->
 <path d="M394,820 C393.5,814 396.5,809 402,808 C403,803.5 408,801.5 412.5,803.5 C416,801 421.5,802 423,806 C426.5,806.5 428.5,810 427,813.5 C430,815 431,818 430,820 Z"/>
 <!-- right edge cloud -->
 <path d="M583,790 C583.5,784 588,779.5 594,779 C596,777.5 599,777.5 600,778 L600,790 Z"/>
</g>
<g fill="none" stroke="#fffaf2" stroke-linecap="round" stroke-linejoin="round">
 <!-- light separators in wave -->
 <path d="M483,797 C488,783 498,771 512,764 C520,760 530,758.5 541,758.5" stroke-width="1.1"/>
 <path d="M489,798 C494,786 503,775 516,768.5 C523,765 531,763.5 545,763.5" stroke-width="1.1"/>
 <!-- curls in cloud -->
 <path d="M472,806 c-1,-3 2,-5 4,-4 c2,1 1,4 -1,3" stroke-width="1"/>
 <path d="M497,806 c-1,-3 2,-5 4,-4 c2,1 1,4 -1,3" stroke-width="1"/>
 <path d="M408,811 c-1,-3 2,-5 4,-4 c2,1 1,4 -1,3" stroke-width="1"/>
 <path d="M531,771 c-2,-3 1,-7 5,-6 c3,1 3,5 0,6 c-2,0 -2,-2 0,-2" stroke-width="1"/>
 <!-- head detail -->
 <path d="M425,756 c1,-2 4,-2 4,1" stroke-width="0.9"/>
 <path d="M436,768 c1,-2 4,-2 4,1" stroke-width="0.9"/>
 <!-- crest streak separators -->
 <path d="M529,753 l5,5 M535,752 l5,5.5 M541,752 l5,5.5 M547,752.5 l5,5.5 M553,753.5 l4.5,5" stroke-width="0.9"/>
 <path d="M495,797 C499,789 506,781 518,774 C524,771 530,769 536,768.5" stroke-width="1"/>
</g>
<g fill="none" stroke="#f4d3a6" stroke-linecap="round">
 <!-- mane streaks -->
 <path d="M463,756 C472,755 482,753 491,750" stroke-width="2.6"/>
 <path d="M458,760 C465,760 472,760.5 480,760" stroke-width="2.2"/>
 <path d="M455,763.5 C462,764 470,764.8 478,765" stroke-width="2"/>
 <path d="M451,766.5 C458,767.5 465,768 473,768" stroke-width="1.8"/>
 <path d="M448,769.5 C454,770.5 461,771 468,771" stroke-width="1.6"/>
 <path d="M443,772 l5,3 M440,774 l4,3.5 M446,775 l3,2" stroke-width="1.5"/>
 <!-- outer thin arc beyond wave -->
 <path d="M470,798 C474,784 483,771 496,763" stroke-width="1.8"/>
</g>

<rect x="511" y="786" width="89" height="34" fill="#c27a14"/>
<polygon points="559,786 600,786 600,820 551,820" fill="#c5561a"/>
<text x="525" y="804.5" fill="#fff3dc" stroke="#fff3dc" stroke-width="0.1" style="font-family:'Liberation Serif',serif;font-size:14.5px" textLength="17.2" lengthAdjust="spacingAndGlyphs">047</text>
<text x="565" y="804.5" fill="#fff3dc" stroke="#fff3dc" stroke-width="0.1" style="font-family:'Liberation Serif',serif;font-size:14.5px" textLength="17.4" lengthAdjust="spacingAndGlyphs">048</text>
</svg></body></html>
